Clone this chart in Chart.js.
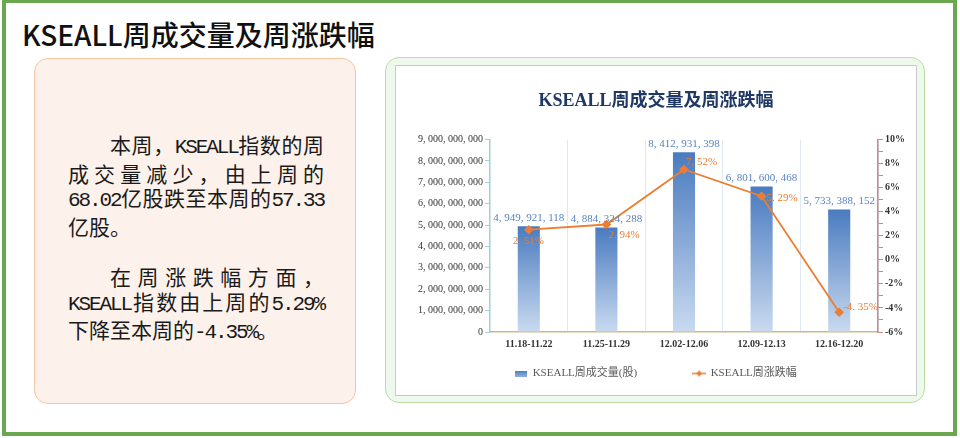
<!DOCTYPE html>
<html>
<head>
<meta charset="utf-8">
<script src="https://cdn.jsdelivr.net/npm/chart.js@4.4.1/dist/chart.umd.min.js"></script>
<style>
  body { margin:0; width:960px; height:438px; background:#fff; position:relative; overflow:hidden; }
  .frame { position:absolute; left:2px; top:-1px; width:955px; height:437px; box-sizing:border-box; border:4px solid #6aa84f; }
  .title { position:absolute; left:22px; top:14px; font:500 28px "Noto Sans CJK SC", sans-serif; color:#111; white-space:nowrap; }
  .note { position:absolute; left:34px; top:58px; width:322px; height:346px; box-sizing:border-box;
          border:1.5px solid #f5c4a0; border-radius:14px; background:#fdf2eb; }
  .para { position:absolute; left:33px; width:256px; font:400 21px "Noto Sans CJK SC", serif;
          line-height:24.5px; color:#1a1a1a; }
  .para div { white-space:nowrap; }
  .para .j { text-align:justify; text-align-last:justify; }
  .para .l { font-family:"Liberation Mono", monospace; letter-spacing:-0.1em; }
  .ind { padding-left:42px; }
  .panel { position:absolute; left:385px; top:57px; width:540px; height:346px; box-sizing:border-box;
           border:1.5px solid #b9dda5; border-radius:14px; background:#eff8ec; }
  .box { position:absolute; left:395px; top:65px; width:522px; height:331px; box-sizing:border-box;
         border:1.5px solid #c9c9c9; background:#fff; }
  .wrap { position:absolute; left:396px; top:66px; width:520px; height:329px; }
</style>
</head>
<body>
<div class="frame"></div>
<div class="title">KSEALL周成交量及周涨跌幅</div>

<div class="note">
  <div class="para" style="top:73px">
    <div class="j ind">本周，<span class="l">KSEALL</span>指数的周</div>
    <div class="j">成交量减少，由上周的</div>
    <div class="j"><span class="l">68.02</span>亿股跌至本周的<span class="l">57.33</span></div>
    <div>亿股。</div>
  </div>
  <div class="para" style="top:205px">
    <div class="j ind">在周涨跌幅方面，</div>
    <div class="j"><span class="l">KSEALL</span>指数由上周的<span class="l">5.29%</span></div>
    <div>下降至本周的<span class="l">-4.35%</span>。</div>
  </div>
</div>

<div class="panel"></div>
<div class="box"></div>
<div class="wrap"><canvas id="chart"></canvas></div>

<script>
// weekly volume + weekly change
const weeks   = ['11.18-11.22', '11.25-11.29', '12.02-12.06', '12.09-12.13', '12.16-12.20'];
const volumes = [4949921118, 4884324288, 8412931398, 6801600468, 5733388152];
const changes = [2.51, 2.94, 7.52, 5.29, -4.35];

const volMax = 9000000000, volStep = 1000000000;
const pctMin = -6, pctMax = 10;

const SERIF = '"Liberation Serif", "Noto Sans CJK SC", serif';
const BLUE_LABEL = '#5884bf';
const ORANGE = '#ed7d31';

// label nudges for the % labels (dx from point, dy of centre)
const pctLabelNudge = [[-16, 11], [2, 11], [2, -7], [5, 2], [4, -5]];

const fmtNum = v => Number(v).toLocaleString('en-US').replace(/,/g, ', ');
const fmtPct = v => v.toFixed(2).replace('.', '. ') + '%';

// legend icons
function barIcon() {
  const c = document.createElement('canvas');
  c.width = 12; c.height = 6;
  const g = c.getContext('2d');
  const gr = g.createLinearGradient(0, 0, 0, 6);
  gr.addColorStop(0, '#4a7bbf'); gr.addColorStop(1, '#8fb0dd');
  g.fillStyle = gr; g.fillRect(0, 0, 12, 6);
  return c;
}
function lineIcon() {
  const c = document.createElement('canvas');
  c.width = 14; c.height = 8;
  const g = c.getContext('2d');
  g.strokeStyle = ORANGE; g.lineWidth = 1.5;
  g.beginPath(); g.moveTo(0, 4); g.lineTo(14, 4); g.stroke();
  g.fillStyle = ORANGE;
  g.beginPath(); g.moveTo(7, 1); g.lineTo(10, 4); g.lineTo(7, 7); g.lineTo(4, 4); g.closePath(); g.fill();
  return c;
}

const labelPlugin = {
  id: 'valueLabels',
  afterDatasetsDraw(chart) {
    const ctx = chart.ctx;
    ctx.save();
    ctx.font = '11px ' + SERIF;
    ctx.fillStyle = BLUE_LABEL;
    ctx.textAlign = 'center';
    ctx.textBaseline = 'bottom';
    chart.getDatasetMeta(0).data.forEach((bar, i) => {
      ctx.fillText(fmtNum(volumes[i]), bar.x, bar.y - 3);
    });
    ctx.fillStyle = ORANGE;
    ctx.textAlign = 'left';
    ctx.textBaseline = 'middle';
    chart.getDatasetMeta(1).data.forEach((pt, i) => {
      const [dx, dy] = pctLabelNudge[i];
      ctx.fillText(fmtPct(changes[i]), pt.x + dx, pt.y + dy);
    });
    ctx.restore();
  }
};

new Chart(document.getElementById('chart'), {
  type: 'bar',
  data: {
    labels: weeks,
    datasets: [
      {
        label: 'KSEALL周成交量(股)',
        data: volumes,
        yAxisID: 'y',
        order: 2,
        categoryPercentage: 1,
        barPercentage: 0.285,
        backgroundColor: (c) => {
          const ch = c.chart, area = ch.chartArea;
          if (!area || c.dataIndex == null) return '#6f97cf';
          const top = ch.scales.y.getPixelForValue(volumes[c.dataIndex]);
          const gr = ch.ctx.createLinearGradient(0, top, 0, area.bottom);
          gr.addColorStop(0, '#4a7bbf');
          gr.addColorStop(1, '#c9daf0');
          return gr;
        },
        borderWidth: 0
      },
      {
        type: 'line',
        label: 'KSEALL周涨跌幅',
        data: changes,
        yAxisID: 'y1',
        order: 1,
        borderColor: ORANGE,
        borderWidth: 1.8,
        pointStyle: 'rectRot',
        pointRadius: 3.5,
        pointBackgroundColor: ORANGE,
        pointBorderColor: ORANGE,
        tension: 0
      }
    ]
  },
  options: {
    responsive: true,
    maintainAspectRatio: false,
    animation: false,
    layout: { padding: { left: 0, right: 0, top: 0, bottom: 6 } },
    plugins: {
      title: {
        display: true,
        text: 'KSEALL周成交量及周涨跌幅',
        color: '#1f3864',
        font: { family: SERIF, size: 18, weight: 'bold' },
        padding: { top: 25, bottom: 27 }
      },
      legend: {
        position: 'bottom',
        labels: {
          usePointStyle: true,
          pointStyleWidth: 12,
          padding: 12,
          color: '#595959',
          font: { family: SERIF, size: 11 },
          generateLabels: () => [
            { text: 'KSEALL周成交量(股)' + ' '.repeat(16), pointStyle: barIcon(), datasetIndex: 0, fillStyle: '#4a7bbf', strokeStyle: '#4a7bbf', lineWidth: 0, hidden: false, fontColor: '#595959' },
            { text: 'KSEALL周涨跌幅', pointStyle: lineIcon(), datasetIndex: 1, fillStyle: ORANGE, strokeStyle: ORANGE, lineWidth: 0, hidden: false, fontColor: '#595959' }
          ]
        }
      },
      tooltip: { enabled: false }
    },
    scales: {
      x: {
        offset: true,
        grid: {
          offset: true,
          drawTicks: false,
          color: (c) => (c.index === 0 || c.index === weeks.length) ? 'rgba(0,0,0,0)' : '#dde9f4'
        },
        border: { color: '#c9b98c', width: 1.5 },
        ticks: { color: '#333', padding: 6, font: { family: SERIF, size: 10, weight: 'bold' } }
      },
      y: {
        position: 'left',
        min: 0,
        max: volMax,
        afterFit: (s) => { s.width = 94; },
        grid: { drawOnChartArea: false, tickLength: 5, color: '#9fd0d4', lineWidth: 1 },
        border: { color: '#9fd0d4', width: 1.5 },
        ticks: {
          stepSize: volStep,
          padding: 2,
          color: '#333',
          font: { family: SERIF, size: 10 },
          callback: (v) => fmtNum(v)
        }
      },
      y1: {
        position: 'right',
        min: pctMin,
        max: pctMax,
        afterFit: (s) => { s.width = 38; },
        grid: { drawOnChartArea: false, tickLength: 5, color: '#c98a86', lineWidth: 1 },
        border: { color: '#c98a86', width: 1.5 },
        ticks: {
          stepSize: 1,
          autoSkip: false,
          padding: 2,
          color: '#333',
          font: { family: SERIF, size: 10, weight: 'bold' },
          callback: (v) => (v % 2 === 0 ? v + '%' : '')
        }
      }
    }
  },
  plugins: [labelPlugin]
});
</script>
</body>
</html>
